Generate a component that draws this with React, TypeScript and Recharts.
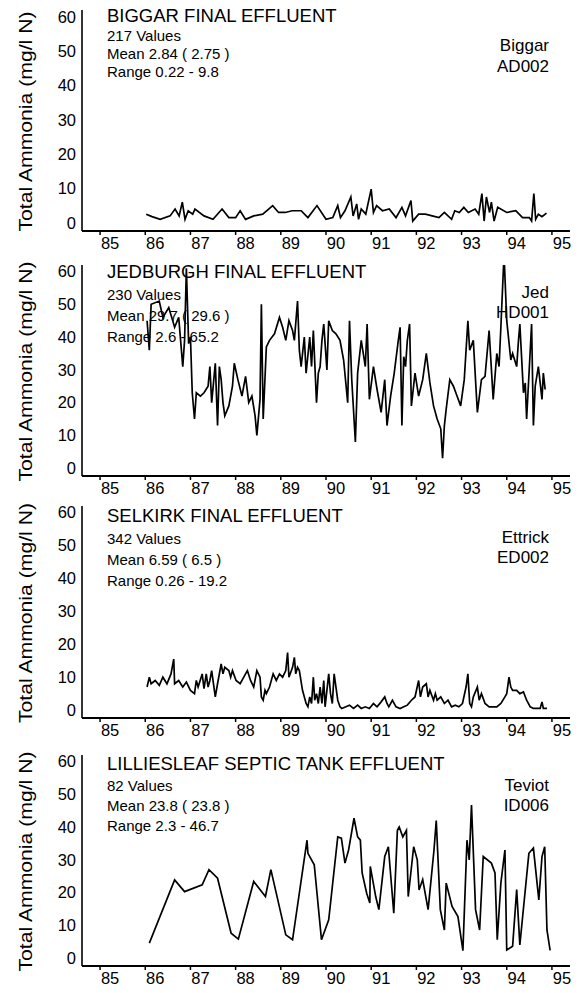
import { LineChart, Line, XAxis, YAxis } from 'recharts'

const FONT = '"Liberation Sans", Arial, Helvetica, sans-serif'

const YEAR_TICKS = [85, 86, 87, 88, 89, 90, 91, 92, 93, 94, 95]
const AMMONIA_TICKS = [0, 10, 20, 30, 40, 50, 60]
const Y_LABEL = 'Total Ammonia (mg/l N)'

// Biggar AD002
const biggarYears = [
  86.02, 86.15, 86.33, 86.55, 86.66, 86.75, 86.82, 86.88, 86.95, 87.05, 87.1, 87.3, 87.5, 87.7,
  87.85, 88.0, 88.1, 88.22, 88.4, 88.6, 88.82, 88.95, 89.1, 89.25, 89.45, 89.6, 89.8, 90.0,
  90.15, 90.26, 90.32, 90.42, 90.55, 90.6, 90.68, 90.72, 90.78, 90.88, 91.0, 91.05, 91.12,
  91.25, 91.4, 91.55, 91.68, 91.76, 91.88, 91.92, 92.05, 92.2, 92.35, 92.5, 92.62, 92.78,
  92.85, 92.95, 93.05, 93.15, 93.3, 93.38, 93.45, 93.5, 93.55, 93.62, 93.66, 93.72, 93.8,
  94.0, 94.2, 94.35, 94.5, 94.55, 94.6, 94.64, 94.7, 94.78, 94.88,
]
const biggarValues = [
  2.5, 1.8, 1.0, 2.0, 4.0, 2.0, 6.0, 1.0, 3.5, 2.5, 4.0, 2.0, 1.0, 4.0,
  1.5, 1.5, 3.5, 1.0, 2.0, 2.5, 5.0, 3.0, 3.0, 3.5, 3.5, 1.5, 5.0, 1.0,
  1.5, 5.0, 1.5, 3.5, 7.5, 2.0, 5.5, 1.0, 4.0, 2.5, 9.8, 3.0, 5.0,
  3.5, 4.0, 1.5, 4.5, 2.0, 6.5, 0.5, 2.5, 2.5, 2.0, 1.5, 3.0, 1.0,
  3.5, 3.0, 4.5, 3.0, 4.0, 2.5, 8.5, 0.5, 7.5, 3.0, 6.0, 0.5, 4.5,
  3.0, 3.5, 1.5, 1.5, 0.5, 8.5, 1.0, 2.5, 1.8, 2.8,
]

// Jedburgh HD001
const jedYears = [
  86.04, 86.09, 86.13, 86.31, 86.39, 86.52, 86.65, 86.74, 86.83, 86.87, 86.91, 86.96, 87.0,
  87.04, 87.09, 87.13, 87.22, 87.3, 87.39, 87.43, 87.47, 87.51, 87.55, 87.6, 87.64, 87.68,
  87.72, 87.76, 87.85, 87.93, 87.97, 88.05, 88.14, 88.22, 88.29, 88.36, 88.43, 88.47, 88.54,
  88.57, 88.61, 88.68, 88.75, 88.86, 88.97, 89.04, 89.11, 89.18, 89.26, 89.3, 89.37, 89.41,
  89.45, 89.52, 89.56, 89.64, 89.68, 89.72, 89.79, 89.83, 89.87, 89.91, 89.95, 90.02, 90.06,
  90.14, 90.22, 90.31, 90.39, 90.48, 90.52, 90.57, 90.65, 90.7, 90.78, 90.87, 90.91, 90.96,
  91.05, 91.13, 91.22, 91.3, 91.35, 91.43, 91.51, 91.6, 91.64, 91.68, 91.72, 91.76, 91.8,
  91.85, 91.89, 91.97, 92.05, 92.14, 92.22, 92.3, 92.38, 92.46, 92.54, 92.58, 92.62, 92.66,
  92.74, 92.82, 92.9, 92.98, 93.06, 93.14, 93.18, 93.26, 93.35, 93.44, 93.52, 93.61, 93.7,
  93.78, 93.83, 93.87, 93.94, 94.0, 94.09, 94.13, 94.22, 94.26, 94.29, 94.37, 94.41, 94.44,
  94.52, 94.55, 94.59, 94.63, 94.7, 94.78, 94.81, 94.85,
]
const jedValues = [
  45, 36, 50, 51, 46, 49, 43, 46, 31, 39, 61, 38, 40,
  23, 15, 23, 22, 23, 25, 31, 20, 26, 32, 13, 31, 27,
  20, 16, 19, 25, 32, 27, 22, 28, 20, 22, 16, 10, 21,
  50, 15, 37, 39, 41, 46, 43, 39, 45, 42, 39, 51, 36,
  31, 40, 29, 40, 31, 42, 20, 29, 31, 39, 44, 30, 45,
  42, 41, 39, 33, 20, 45, 27, 8, 29, 39, 31, 44, 21,
  31, 24, 17, 27, 13, 22, 29, 39, 43, 13, 34, 31, 39,
  44, 19, 29, 22, 27, 35, 26, 19, 15, 12, 3, 13, 18,
  27, 25, 22, 19, 27, 45, 36, 39, 17, 27, 28, 42, 21,
  35, 31, 43, 65.2, 45, 33, 35, 31, 39, 44, 23, 26, 15,
  36, 44, 13, 25, 31, 21, 29, 24,
]

// Selkirk ED002
const selkirkYears = [
  86.04, 86.09, 86.13, 86.22, 86.31, 86.39, 86.48, 86.57, 86.63, 86.65, 86.74, 86.83, 86.91,
  87.0, 87.09, 87.13, 87.17, 87.26, 87.3, 87.35, 87.39, 87.43, 87.47, 87.51, 87.55, 87.6,
  87.68, 87.72, 87.76, 87.85, 87.89, 87.93, 88.01, 88.1, 88.18, 88.26, 88.33, 88.4, 88.47,
  88.54, 88.57, 88.61, 88.65, 88.68, 88.75, 88.83, 88.9, 88.97, 89.04, 89.11, 89.15, 89.18,
  89.26, 89.3, 89.33, 89.37, 89.41, 89.48, 89.56, 89.6, 89.64, 89.68, 89.72, 89.75, 89.79,
  89.83, 89.87, 89.91, 89.95, 89.98, 90.06, 90.1, 90.14, 90.18, 90.26, 90.31, 90.35, 90.44,
  90.52, 90.61, 90.7, 90.78, 90.87, 90.96, 91.05, 91.13, 91.22, 91.3, 91.35, 91.39, 91.47,
  91.55, 91.64, 91.72, 91.8, 91.89, 91.97, 92.05, 92.09, 92.14, 92.22, 92.26, 92.3, 92.38,
  92.42, 92.46, 92.54, 92.62, 92.7, 92.78, 92.86, 92.94, 93.02, 93.1, 93.14, 93.18, 93.22,
  93.26, 93.35, 93.39, 93.44, 93.52, 93.61, 93.7, 93.78, 93.87, 93.96, 94.0, 94.05, 94.09,
  94.13, 94.22, 94.29, 94.37, 94.44, 94.52, 94.59, 94.67, 94.74, 94.78, 94.81, 94.89,
]
const selkirkValues = [
  7, 10, 8, 9, 7.5, 10, 8, 11, 15.5, 8, 9, 7, 8.5,
  6, 5, 9, 7, 11, 6.5, 11, 7, 9, 12, 8, 4, 8,
  14, 11, 13, 12, 10, 12, 9, 8, 10, 12, 9, 7, 12,
  10, 4, 3, 6, 5, 7, 11, 9, 11, 10, 12, 17.5, 10,
  13, 16, 11, 13, 12, 6, 2, 1, 4, 2, 10, 3, 5,
  2, 7, 2, 9, 1, 11, 5, 2, 11, 3, 1, 0.5, 1,
  1.5, 0.5, 1.5, 0.5, 1, 0.5, 2, 1, 2.5, 4, 2, 1, 3,
  1, 0.5, 1, 1.5, 3, 4, 9, 4, 7, 8, 4, 6, 3,
  5, 3, 4, 2, 3, 1, 1.5, 1, 2, 7, 11, 2, 1,
  4, 7, 3, 5, 2, 1, 1, 1, 2, 4, 5, 10, 7,
  6, 6, 5, 5.5, 3, 1, 0.5, 0.5, 0.5, 2.5, 0.5, 0.5,
]

// Lilliesleaf ID006
const lillYears = [
  86.09, 86.65, 86.87, 87.26, 87.41, 87.6, 87.9, 88.06, 88.4, 88.66, 88.78, 89.11, 89.26,
  89.58, 89.6, 89.74, 89.9, 90.06, 90.26, 90.34, 90.42, 90.5, 90.62, 90.7, 90.76, 90.8,
  90.9, 90.97, 90.98, 91.1, 91.17, 91.3, 91.38, 91.5, 91.58, 91.62, 91.7, 91.78, 91.82,
  91.94, 92.02, 92.06, 92.14, 92.26, 92.39, 92.44, 92.53, 92.62, 92.66, 92.79, 92.92, 93.03,
  93.12, 93.17, 93.22, 93.31, 93.4, 93.48, 93.66, 93.74, 93.79, 93.87, 93.96, 94.0, 94.13,
  94.22, 94.29, 94.49, 94.59, 94.71, 94.78, 94.84, 94.89, 94.96,
]
const lillValues = [
  4.6, 23.9, 20.3, 22.4, 27, 24.4, 7.6, 5.8, 23.4, 18.8, 27, 7.1, 5.6,
  36, 32, 28.5, 5.6, 11.7, 37, 36.6, 29, 33, 42.7, 37, 36, 26,
  19.8, 16.8, 28, 18.8, 14.8, 31, 34, 13.7, 39, 40, 37, 39, 18.8,
  34, 30, 20.8, 24, 14.8, 33, 42, 14.8, 8.6, 22.9, 15.8, 12.7, 2.3,
  36, 30, 46.7, 14.8, 8.6, 31, 29, 26, 5.6, 22.9, 33, 2.5, 3.6,
  20.9, 4, 32, 33.6, 17.8, 31, 34, 8.6, 2.4,
]

const siteTitles = [
  'BIGGAR FINAL EFFLUENT',
  'JEDBURGH FINAL EFFLUENT',
  'SELKIRK FINAL EFFLUENT',
  'LILLIESLEAF SEPTIC TANK EFFLUENT',
]
const siteStats = [
  ['217 Values', 'Mean 2.84 ( 2.75 )', 'Range 0.22 - 9.8'],
  ['230 Values', 'Mean 29.7 ( 29.6 )', 'Range 2.6 - 65.2'],
  ['342 Values', 'Mean 6.59 ( 6.5 )', 'Range 0.26 - 19.2'],
  ['82 Values', 'Mean 23.8 ( 23.8 )', 'Range 2.3 - 46.7'],
]
const siteCodes = [
  ['Biggar', 'AD002'],
  ['Jed', 'HD001'],
  ['Ettrick', 'ED002'],
  ['Teviot', 'ID006'],
]
const seriesYears = [biggarYears, jedYears, selkirkYears, lillYears]
const seriesValues = [biggarValues, jedValues, selkirkValues, lillValues]

// page layout of each panel (pixels)
const layout = [
  { plotTop: 10, plotBottom: 231, titleBase: 22, statGap: 18, codeBase: [51, 72] },
  { plotTop: 265, plotBottom: 476, titleBase: 278, statGap: 21, codeBase: [298, 318] },
  { plotTop: 506, plotBottom: 718, titleBase: 522, statGap: 21, codeBase: [543, 563] },
  { plotTop: 755, plotBottom: 966, titleBase: 770, statGap: 20, codeBase: [791, 811] },
]

const X_AXIS_H = 26

function YearTick(props: any) {
  const { x, y, payload } = props
  return (
    <text x={x + 10} y={y} dy="0.71em" textAnchor="middle" fontSize={16.5} fontFamily={FONT} fill="#000">
      {payload.value}
    </text>
  )
}

function Panel({ idx }: { idx: number }) {
  const lay = layout[idx]
  const years = seriesYears[idx]
  const data = seriesValues[idx].map((v, i) => ({ year: years[i], v }))
  const plotH = lay.plotBottom - lay.plotTop

  return (
    <div style={{ position: 'absolute', left: 0, top: lay.plotTop - 10 }}>
      <LineChart width={579} height={plotH + 10 + X_AXIS_H} data={data} margin={{ top: 10, right: 9, bottom: 0, left: 0 }}>
        <XAxis
          type="number"
          dataKey="year"
          domain={[84.6, 95.4]}
          ticks={YEAR_TICKS}
          interval={0}
          allowDataOverflow
          height={X_AXIS_H}
          axisLine={{ stroke: '#000', strokeWidth: 2 }}
          tickLine={{ stroke: '#000', strokeWidth: 1.5 }}
          tickSize={4}
          tickMargin={2}
          tick={<YearTick />}
        />
        <YAxis
          type="number"
          domain={[-2.4, 62]}
          ticks={AMMONIA_TICKS}
          interval={0}
          allowDataOverflow
          width={82}
          axisLine={{ stroke: '#000', strokeWidth: 1.6 }}
          tickLine={false}
          tickSize={4}
          tickMargin={2}
          tick={{ fill: '#000', fontSize: 16.5, fontFamily: FONT }}
        />
        <Line type="linear" dataKey="v" stroke="#000" strokeWidth={1.7} dot={false} isAnimationActive={false} />
      </LineChart>
    </div>
  )
}

export default function App() {
  return (
    <div style={{ position: 'absolute', left: 0, top: 0, width: 579, height: 993, background: '#fff', overflow: 'hidden' }}>
      {layout.map((_, i) => (
        <Panel key={i} idx={i} />
      ))}
      <svg width={579} height={993} style={{ position: 'absolute', left: 0, top: 0, pointerEvents: 'none' }} fontFamily={FONT} fill="#000">
        {layout.map((lay, i) => (
          <g key={i}>
            <text
              transform={`translate(32, ${(lay.plotTop + lay.plotBottom) / 2 + 1}) rotate(-90)`}
              textAnchor="middle"
              fontSize={19}
              textLength={220}
              lengthAdjust="spacingAndGlyphs"
            >
              {Y_LABEL}
            </text>
            <text x={107} y={lay.titleBase} fontSize={18.5}>
              {siteTitles[i]}
            </text>
            {siteStats[i].map((s, j) => (
              <text key={j} x={107} y={lay.titleBase + lay.statGap * (j + 1) + 1} fontSize={15}>
                {s}
              </text>
            ))}
            {siteCodes[i].map((s, j) => (
              <text key={j} x={549} y={lay.codeBase[j]} fontSize={17} textAnchor="end">
                {s}
              </text>
            ))}
          </g>
        ))}
      </svg>
    </div>
  )
}
